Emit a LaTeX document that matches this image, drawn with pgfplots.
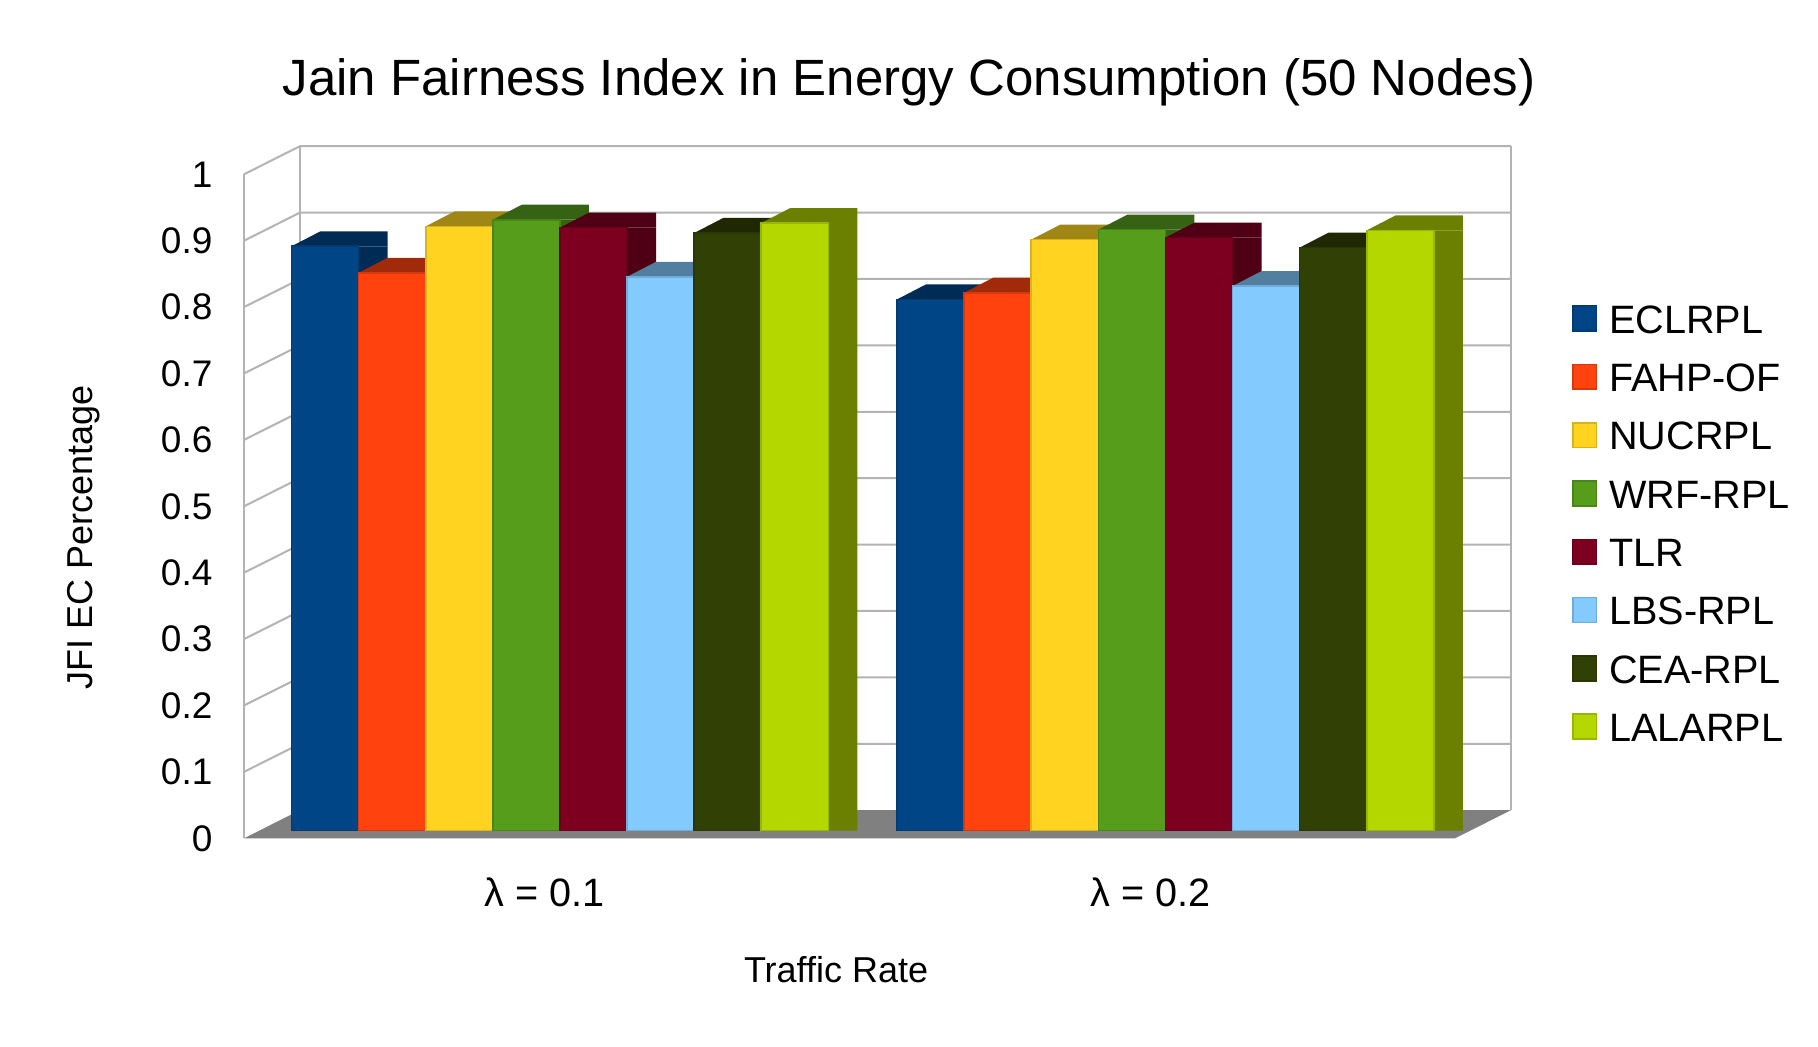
\documentclass[border=0pt]{standalone}
\usepackage{pgfplots}
\pgfplotsset{compat=1.18}
\usepackage{fontspec}
\setmainfont{Liberation Sans}
\definecolor{c1}{HTML}{004586}\definecolor{d1}{HTML}{002B54}
\definecolor{c2}{HTML}{FF420E}\definecolor{d2}{HTML}{A02A09}
\definecolor{c3}{HTML}{FFD320}\definecolor{d3}{HTML}{A08614}
\definecolor{c4}{HTML}{579D1C}\definecolor{d4}{HTML}{366213}
\definecolor{c5}{HTML}{7E0021}\definecolor{d5}{HTML}{4F0015}
\definecolor{c6}{HTML}{83CAFF}\definecolor{d6}{HTML}{527FA0}
\definecolor{c7}{HTML}{314004}\definecolor{d7}{HTML}{1F2802}
\definecolor{c8}{HTML}{B4D700}\definecolor{d8}{HTML}{6B7F00}
\definecolor{gridc}{HTML}{B3B3B3}
\definecolor{floorc}{HTML}{808080}
\pgfdeclareplotmark{topface}{%
  \pgfpathmoveto{\pgfqpoint{-16.775pt}{0pt}}%
  \pgfpathlineto{\pgfqpoint{31.275pt}{0pt}}%
  \pgfpathlineto{\pgfqpoint{31.275pt}{7.5pt}}%
  \pgfpathlineto{\pgfqpoint{-2.275pt}{7.5pt}}%
  \pgfpathclose\pgfusepathqfill}
\newcommand{\bodyfont}{\fontsize{18}{21}\selectfont}
\newcommand{\ytfont}{\fontsize{18.5}{22}\selectfont}
\newcommand{\xtfont}{\fontsize{19.8}{23}\selectfont}
\begin{document}
\begin{tikzpicture}
\useasboundingbox (-129.5pt,-108.2pt) rectangle (779.5pt,415.3pt);
\begin{axis}[
  at={(0pt,0pt)}, anchor=south west,
  x=302.75pt, y=332pt,
  xmin=-0.5, xmax=1.5, ymin=0, ymax=1,
  clip=false, clip marker paths=true,
  axis line style={draw=none},
  major tick length=0pt,
  tick style={draw=none},
  xtick={0,1},
  xticklabels={λ = 0.1, λ = 0.2},
  ytick={0,0.1,0.2,0.3,0.4,0.5,0.6,0.7,0.8,0.9,1},
  yticklabels={0,0.1,0.2,0.3,0.4,0.5,0.6,0.7,0.8,0.9,1},
  xticklabel style={anchor=base, inner sep=0pt, xshift=-8.5pt, yshift=-38.05pt, font=\xtfont},
  yticklabel style={anchor=east, inner sep=0pt, xshift=-23.1pt, yshift=-3.85pt, font=\ytfont},
  xlabel={Traffic Rate},
  xlabel style={at={(axis description cs:0.4765,0)}, anchor=base, yshift=-76.2pt, inner sep=0pt, font=\bodyfont},
  ylabel={JFI EC Percentage},
  ylabel style={at={(axis description cs:-0.1371,0.4414)}, anchor=base, rotate=0, inner sep=0pt, font=\bodyfont},
  title={Jain Fairness Index in Energy Consumption (50 Nodes)},
  title style={at={(axis description cs:0.5368,1)}, anchor=base, yshift=29.3pt, inner sep=0pt, font=\fontsize{25.5}{30}\selectfont},
  legend image code/.code={\fill[#1] (0pt,-5.9pt) rectangle (11.7pt,6.5pt);},
  legend style={at={(axis description cs:1.0845,0.7916)}, anchor=north west, draw=none, fill=none,
    inner sep=0pt, outer sep=0pt, row sep=14.95pt, column sep=6pt, font=\xtfont,
    nodes={inner sep=0pt, text height=14.2pt, text depth=0pt}},
  legend cell align=left,
]
% floor
\fill[floorc] ([shift={(-7.5pt,-3.85pt)}]axis cs:-0.5,0) -- ([shift={(-7.5pt,-3.85pt)}]axis cs:1.5,0)
  -- ([shift={(20.5pt,10.2pt)}]axis cs:1.5,0) -- ([shift={(20.5pt,10.2pt)}]axis cs:-0.5,0) -- cycle;
% walls and grid
\pgfplotsinvokeforeach{0.1,0.2,0.3,0.4,0.5,0.6,0.7,0.8,0.9,1}{
  \draw[gridc, line width=1pt] ([shift={(-7.5pt,-3.85pt)}]axis cs:-0.5,#1) -- ([shift={(20.5pt,10.2pt)}]axis cs:-0.5,#1) -- ([shift={(20.5pt,10.2pt)}]axis cs:1.5,#1);
}
\draw[gridc, line width=1pt] ([shift={(-7.5pt,-3.85pt)}]axis cs:-0.5,0) -- ([shift={(-7.5pt,-3.85pt)}]axis cs:-0.5,1);
\draw[gridc, line width=1pt] ([shift={(20.5pt,10.2pt)}]axis cs:-0.5,0) -- ([shift={(20.5pt,10.2pt)}]axis cs:-0.5,1);
\draw[gridc, line width=1pt] ([shift={(20.5pt,10.2pt)}]axis cs:1.5,0) -- ([shift={(20.5pt,10.2pt)}]axis cs:1.5,1);

% ECLRPL
\addplot[ybar, bar width=33.55pt, bar shift=14.5pt, fill=d1, draw=none, forget plot] coordinates {(-0.3909,0.88) (0.6091,0.80)};
\addplot[only marks, mark=topface, color=d1, forget plot] coordinates {(-0.3909,0.88) (0.6091,0.80)};
\addplot[ybar, bar width=33.55pt, bar shift=0pt, fill=c1, draw=c1!85!black, line width=0.8pt] coordinates {(-0.3909,0.88) (0.6091,0.80)};
\addlegendentry{ECLRPL}
% FAHP-OF
\addplot[ybar, bar width=33.55pt, bar shift=14.5pt, fill=d2, draw=none, forget plot] coordinates {(-0.2801,0.84) (0.7199,0.81)};
\addplot[only marks, mark=topface, color=d2, forget plot] coordinates {(-0.2801,0.84) (0.7199,0.81)};
\addplot[ybar, bar width=33.55pt, bar shift=0pt, fill=c2, draw=c2!85!black, line width=0.8pt] coordinates {(-0.2801,0.84) (0.7199,0.81)};
\addlegendentry{FAHP-OF}
% NUCRPL
\addplot[ybar, bar width=33.55pt, bar shift=14.5pt, fill=d3, draw=none, forget plot] coordinates {(-0.1692,0.91) (0.8308,0.89)};
\addplot[only marks, mark=topface, color=d3, forget plot] coordinates {(-0.1692,0.91) (0.8308,0.89)};
\addplot[ybar, bar width=33.55pt, bar shift=0pt, fill=c3, draw=c3!85!black, line width=0.8pt] coordinates {(-0.1692,0.91) (0.8308,0.89)};
\addlegendentry{NUCRPL}
% WRF-RPL
\addplot[ybar, bar width=33.55pt, bar shift=14.5pt, fill=d4, draw=none, forget plot] coordinates {(-0.0584,0.92) (0.9416,0.905)};
\addplot[only marks, mark=topface, color=d4, forget plot] coordinates {(-0.0584,0.92) (0.9416,0.905)};
\addplot[ybar, bar width=33.55pt, bar shift=0pt, fill=c4, draw=c4!85!black, line width=0.8pt] coordinates {(-0.0584,0.92) (0.9416,0.905)};
\addlegendentry{WRF-RPL}
% TLR
\addplot[ybar, bar width=33.55pt, bar shift=14.5pt, fill=d5, draw=none, forget plot] coordinates {(0.0524,0.908) (1.0524,0.893)};
\addplot[only marks, mark=topface, color=d5, forget plot] coordinates {(0.0524,0.908) (1.0524,0.893)};
\addplot[ybar, bar width=33.55pt, bar shift=0pt, fill=c5, draw=c5!85!black, line width=0.8pt] coordinates {(0.0524,0.908) (1.0524,0.893)};
\addlegendentry{TLR}
% LBS-RPL
\addplot[ybar, bar width=33.55pt, bar shift=14.5pt, fill=d6, draw=none, forget plot] coordinates {(0.1632,0.834) (1.1632,0.82)};
\addplot[only marks, mark=topface, color=d6, forget plot] coordinates {(0.1632,0.834) (1.1632,0.82)};
\addplot[ybar, bar width=33.55pt, bar shift=0pt, fill=c6, draw=c6!85!black, line width=0.8pt] coordinates {(0.1632,0.834) (1.1632,0.82)};
\addlegendentry{LBS-RPL}
% CEA-RPL
\addplot[ybar, bar width=33.55pt, bar shift=14.5pt, fill=d7, draw=none, forget plot] coordinates {(0.2741,0.90) (1.2741,0.878)};
\addplot[only marks, mark=topface, color=d7, forget plot] coordinates {(0.2741,0.90) (1.2741,0.878)};
\addplot[ybar, bar width=33.55pt, bar shift=0pt, fill=c7, draw=c7!85!black, line width=0.8pt] coordinates {(0.2741,0.90) (1.2741,0.878)};
\addlegendentry{CEA-RPL}
% LALARPL
\addplot[ybar, bar width=33.55pt, bar shift=14.5pt, fill=d8, draw=none, forget plot] coordinates {(0.3849,0.915) (1.3849,0.904)};
\addplot[only marks, mark=topface, color=d8, forget plot] coordinates {(0.3849,0.915) (1.3849,0.904)};
\addplot[ybar, bar width=33.55pt, bar shift=0pt, fill=c8, draw=c8!85!black, line width=0.8pt] coordinates {(0.3849,0.915) (1.3849,0.904)};
\addlegendentry{LALARPL}
\end{axis}
\end{tikzpicture}
\end{document}
